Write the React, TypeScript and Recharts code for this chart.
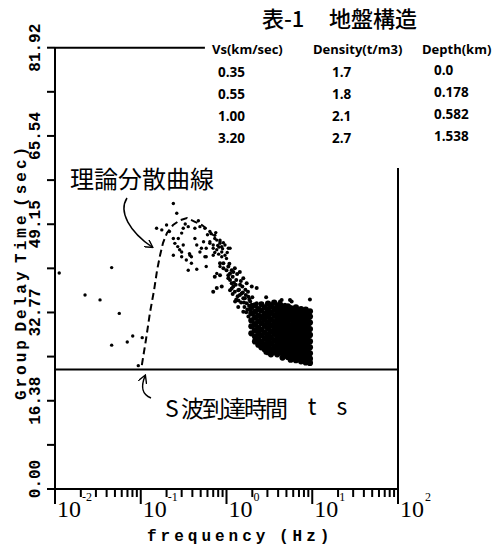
import React from 'react';
import { ScatterChart, Scatter, XAxis, YAxis, ReferenceLine } from 'recharts';

// ---- axes ----
const xMajorTicks = [0.01, 0.1, 1, 10, 100];
const xMinorMultipliers = [2, 3, 4, 5, 6, 7, 8, 9];
const xExponents = ['-2', '-1', '0', '1', '2'];
const yTicks = [0, 8.19, 16.38, 24.58, 32.77, 40.96, 49.15, 57.34, 65.54, 73.73, 81.92];
const yTickLabels = ['0.00', '16.38', '32.77', '49.15', '65.54', '81.92'];
const sWaveArrival = 22.2;

// ---- theoretical dispersion curve (f Hz, t sec) ----
const theoryCurve = [
  [0.103, 23.0], [0.115, 27.7], [0.128, 32.7], [0.143, 36.9], [0.155, 40.6],
  [0.168, 43.4], [0.182, 45.7], [0.202, 47.5], [0.238, 49.0], [0.287, 49.9],
  [0.346, 50.3], [0.429, 49.6], [0.518, 49.0], [0.608, 48.1], [0.697, 47.1],
];

// ---- observed group delays ----
const sparsePoints = [
  [0.0112, 40.1], [0.0224, 36.0], [0.0335, 35.1], [0.0458, 41.1], [0.0562, 32.6],
  [0.0458, 26.7], [0.0696, 27.3], [0.0806, 28.4], [0.104, 28.1], [0.0936, 22.9],
];

const peakPoints = [
  [0.240, 53.0], [0.263, 51.2], [0.153, 48.4], [0.176, 48.1], [0.200, 49.0], [0.216, 47.8],
  [0.274, 46.5], [0.300, 47.5], [0.313, 48.4], [0.358, 48.7], [0.428, 48.4], [0.490, 48.7],
  [0.560, 48.4], [0.640, 47.8], [0.730, 47.1], [0.250, 45.6], [0.313, 45.3], [0.428, 46.5],
  [0.450, 45.3], [0.540, 45.9], [0.510, 44.7], [0.640, 45.9], [0.700, 45.3], [0.840, 45.9],
  [0.880, 45.0], [0.770, 44.4], [0.284, 44.4], [0.370, 43.7], [0.390, 43.1], [0.240, 43.4],
  [0.300, 43.1], [0.580, 43.1], [0.700, 43.4], [0.880, 43.1], [1.00, 42.8], [0.358, 40.6],
  [0.450, 40.8], [0.580, 41.3], [0.770, 40.0], [0.840, 41.3], [0.240, 46.5], [0.270, 45.0],
  [0.300, 44.0], [0.340, 42.5], [0.375, 43.4], [0.390, 41.9], [0.490, 44.0], [0.560, 43.1],
  [0.580, 44.7], [0.640, 45.6], [0.730, 46.5], [0.840, 46.2], [0.960, 45.3], [1.05, 44.7],
  [0.770, 46.2], [0.840, 45.6], [0.700, 44.7], [0.880, 44.0], [0.960, 43.4], [1.10, 44.7],
  [0.660, 47.4], [0.750, 47.6], [0.820, 44.9], [0.730, 43.9], [0.900, 44.6], [0.330, 49.2],
  [0.470, 49.8], [0.600, 47.2], [0.790, 45.2], [0.920, 45.7], [0.810, 43.6], [1.02, 43.9],
];

const bandPoints = [
  [0.92, 41.9], [1.05, 41.3], [1.15, 40.6], [1.25, 41.0], [1.43, 40.3], [0.73, 39.4],
  [0.84, 39.7], [1.05, 39.7], [1.10, 38.8], [1.30, 38.8], [1.57, 39.1], [1.72, 38.2],
  [1.97, 37.6], [2.25, 37.3], [0.77, 37.3], [0.88, 37.6], [0.70, 36.6], [1.20, 37.6],
  [1.25, 36.6], [1.43, 36.0], [1.57, 35.4], [1.80, 35.7], [1.89, 34.8], [2.25, 34.5],
  [1.10, 36.9], [1.37, 36.9], [0.84, 41.9], [0.92, 41.0], [1.00, 40.6], [1.10, 40.0],
  [1.20, 40.3], [1.05, 39.1], [1.15, 38.2], [1.44, 37.9], [1.50, 36.3], [1.64, 35.4],
  [1.72, 34.5], [1.97, 34.2], [1.88, 33.2], [2.05, 32.6], [1.37, 33.8], [1.26, 34.8],
  [1.57, 32.9], [1.80, 32.0], [1.15, 37.2], [1.22, 38.3], [1.35, 35.8], [1.40, 37.0],
  [1.48, 34.6], [1.55, 36.5], [1.62, 33.8], [1.68, 36.0], [1.75, 33.3], [1.85, 35.2],
  [1.92, 33.9], [2.00, 35.6], [2.10, 34.0], [2.15, 33.1], [1.30, 35.2], [1.18, 36.2],
  [1.08, 41.8], [1.18, 39.4], [1.33, 39.9], [1.28, 37.9], [1.47, 38.6], [1.38, 35.0],
  [1.53, 37.6], [1.60, 34.6], [1.66, 37.0], [1.78, 36.6], [1.70, 32.8], [1.83, 34.0],
  [4.21, 34.8], [5.50, 35.1], [9.40, 35.2], [4.81, 33.6], [3.40, 34.3], [2.90, 35.6],
  [5.75, 34.8], [4.81, 34.2], [4.40, 35.1], [2.85, 25.3],
];

const clusterPoints = [
  [1.95, 33.8], [1.95, 32.6], [1.95, 31.3], [1.95, 30.2], [1.95, 28.9],
  [2.15, 34.1], [2.15, 32.9], [2.15, 31.8], [2.15, 30.6], [2.15, 29.5], [2.15, 28.3], [2.15, 27.4],
  [2.35, 33.4], [2.35, 32.2], [2.35, 31.1], [2.35, 29.9], [2.35, 28.8], [2.35, 27.7], [2.35, 26.8],
  [2.55, 34.3], [2.55, 33.1], [2.55, 31.9], [2.55, 30.8], [2.55, 29.6], [2.55, 28.5], [2.55, 27.3], [2.55, 26.3],
  [2.8, 33.7], [2.8, 32.5], [2.8, 31.4], [2.8, 30.3], [2.8, 29.1], [2.8, 28.0], [2.8, 26.9], [2.8, 25.9],
  [3.05, 34.4], [3.05, 33.2], [3.05, 32.1], [3.05, 30.9], [3.05, 29.8], [3.05, 28.6], [3.05, 27.5], [3.05, 26.4], [3.05, 25.4],
  [3.3, 33.9], [3.3, 32.7], [3.3, 31.5], [3.3, 30.4], [3.3, 29.2], [3.3, 28.1], [3.3, 27.0], [3.3, 25.9], [3.3, 25.0],
  [3.6, 34.6], [3.6, 33.4], [3.6, 32.2], [3.6, 31.0], [3.6, 29.9], [3.6, 28.8], [3.6, 27.6], [3.6, 26.5], [3.6, 25.5],
  [3.9, 33.8], [3.9, 32.8], [3.9, 31.6], [3.9, 30.5], [3.9, 29.3], [3.9, 28.2], [3.9, 27.1], [3.9, 26.0], [3.9, 25.0],
  [4.2, 34.3], [4.2, 33.3], [4.2, 32.3], [4.2, 31.1], [4.2, 30.0], [4.2, 28.9], [4.2, 27.8], [4.2, 26.6], [4.2, 25.6],
  [4.5, 33.9], [4.5, 32.9], [4.5, 31.8], [4.5, 30.7], [4.5, 29.5], [4.5, 28.4], [4.5, 27.3], [4.5, 26.2], [4.5, 25.2], [4.5, 24.4],
  [4.85, 33.5], [4.85, 32.4], [4.85, 31.3], [4.85, 30.1], [4.85, 29.0], [4.85, 27.9], [4.85, 26.8], [4.85, 25.7], [4.85, 24.8],
  [5.2, 33.9], [5.2, 33.0], [5.2, 32.0], [5.2, 30.8], [5.2, 29.7], [5.2, 28.6], [5.2, 27.5], [5.2, 26.3], [5.2, 25.3], [5.2, 24.5],
  [5.6, 33.6], [5.6, 32.6], [5.6, 31.5], [5.6, 30.3], [5.6, 29.2], [5.6, 28.1], [5.6, 26.9], [5.6, 25.8], [5.6, 24.8], [5.6, 24.0],
  [6.0, 33.2], [6.0, 32.2], [6.0, 31.1], [6.0, 29.9], [6.0, 28.7], [6.0, 27.6], [6.0, 26.5], [6.0, 25.4], [6.0, 24.4],
  [6.45, 33.7], [6.45, 32.8], [6.45, 31.6], [6.45, 30.5], [6.45, 29.3], [6.45, 28.2], [6.45, 27.1], [6.45, 26.0], [6.45, 24.9], [6.45, 23.9],
  [6.9, 33.0], [6.9, 32.1], [6.9, 30.9], [6.9, 29.8], [6.9, 28.6], [6.9, 27.5], [6.9, 26.4], [6.9, 25.3], [6.9, 24.3],
  [7.4, 33.4], [7.4, 32.5], [7.4, 31.4], [7.4, 30.2], [7.4, 29.1], [7.4, 28.0], [7.4, 26.9], [7.4, 25.8], [7.4, 24.7], [7.4, 23.7],
  [7.9, 32.9], [7.9, 31.9], [7.9, 30.7], [7.9, 29.6], [7.9, 28.5], [7.9, 27.3], [7.9, 26.2], [7.9, 25.1], [7.9, 24.1],
  [8.4, 33.3], [8.4, 32.3], [8.4, 31.2], [8.4, 30.0], [8.4, 28.9], [8.4, 27.8], [8.4, 26.6], [8.4, 25.5], [8.4, 24.5], [8.4, 23.5],
  [8.9, 32.8], [8.9, 31.7], [8.9, 30.5], [8.9, 29.4], [8.9, 28.2], [8.9, 27.1], [8.9, 26.0], [8.9, 24.9], [8.9, 23.9],
  [9.4, 33.0], [9.4, 32.0], [9.4, 30.9], [9.4, 29.7], [9.4, 28.6], [9.4, 27.4], [9.4, 26.3], [9.4, 25.2], [9.4, 24.2], [9.4, 23.4],
];

// ---- table ----
const tableTitle = ['表-1', '地盤構造'];
const tableHeaders = ['Vs(km/sec)', 'Density(t/m3)', 'Depth(km)'];
const vsValues = ['0.35', '0.55', '1.00', '3.20'];
const densityValues = ['1.7', '1.8', '2.1', '2.7'];
const depthValues = ['0.0', '0.178', '0.582', '1.538'];

const toObj = (arr: number[][]) => arr.map(([f, t]) => ({ f, t }));

const xTicks: number[] = [];
xMajorTicks.forEach((d, i) => {
  xTicks.push(d);
  if (i < xMajorTicks.length - 1) xMinorMultipliers.forEach((m) => xTicks.push(+(d * m).toPrecision(6)));
});

const MONO = "'Liberation Mono', 'DejaVu Sans Mono', monospace";
const SERIF = "'Liberation Serif', 'DejaVu Serif', serif";
const CJK = "'Noto Sans CJK JP', 'Noto Sans CJK SC', sans-serif";
const SANS = "'Open Sans', 'Liberation Sans', sans-serif";

// tickSize/tickMargin are 0, so (x, y) sits on the axis line
const XTick = (props: any) => {
  const { x, y, payload } = props;
  const v = payload.value;
  const idx = xMajorTicks.findIndex((m) => Math.abs(m - v) / m < 1e-6);
  const major = idx >= 0;
  return (
    <g>
      <rect x={x - 1} y={y} width={2} height={major ? 15 : 8} fill="#000" />
      {major && (
        <text x={x + 2} y={y + 28} fontFamily={SERIF} fontSize={24} fill="#000">
          10
          <tspan dx={1} dy={-16} fontSize={12}>{xExponents[idx]}</tspan>
        </text>
      )}
    </g>
  );
};

const YTick = (props: any) => {
  const { x, y, payload } = props;
  const i = yTicks.indexOf(payload.value);
  const label = i % 2 === 0 ? yTickLabels[i / 2] : null;
  const cy = i === 0 ? y - 10 : y;
  return (
    <g>
      <rect x={x - 8} y={y - 1} width={8} height={2} fill="#000" />
      {label && (
        <text
          x={36}
          y={cy}
          transform={`rotate(-90 36 ${cy})`}
          textAnchor="middle"
          dominantBaseline="central"
          fontFamily={MONO}
          fontWeight="bold"
          fontSize={16}
          fill="#000"
        >
          {label}
        </text>
      )}
    </g>
  );
};

const dot = (r: number) => (p: any) => <circle cx={p.cx} cy={p.cy} r={r} fill="#000" />;
const noShape = () => <g />;

export default function App() {
  const rowY = [77, 99, 121, 143];
  return (
    <div style={{ position: 'absolute', left: 0, top: 0, width: 493, height: 550, background: '#fff' }}>
      <ScatterChart width={493} height={550} margin={{ top: 47.7, right: 95, bottom: 21, left: 10 }}>
        <XAxis
          type="number"
          dataKey="f"
          scale="log"
          domain={[0.01, 100]}
          ticks={xTicks}
          interval={0}
          height={40}
          tickSize={0}
          tickMargin={0}
          tickLine={false}
          axisLine={{ stroke: '#000', strokeWidth: 2 }}
          tick={(p: any) => <XTick {...p} />}
          allowDataOverflow
        />
        <YAxis
          type="number"
          dataKey="t"
          domain={[0, 81.92]}
          ticks={yTicks}
          interval={0}
          width={45}
          tickSize={0}
          tickMargin={0}
          tickLine={false}
          axisLine={{ stroke: '#000', strokeWidth: 2 }}
          tick={(p: any) => <YTick {...p} />}
          allowDataOverflow
        />
        <ReferenceLine y={sWaveArrival} stroke="#000" strokeWidth={2} />
        <ReferenceLine segment={[{ x: 0.01, y: 81.92 }, { x: 0.56, y: 81.92 }]} stroke="#000" strokeWidth={2} />
        <ReferenceLine segment={[{ x: 100, y: 0 }, { x: 100, y: 59.6 }]} stroke="#000" strokeWidth={2} />
        <Scatter
          data={toObj(theoryCurve)}
          line={{ stroke: '#000', strokeWidth: 2, strokeDasharray: '7 4' }}
          lineType="joint"
          shape={noShape}
          isAnimationActive={false}
        />
        <Scatter data={toObj(sparsePoints)} shape={dot(1.7)} isAnimationActive={false} />
        <Scatter data={toObj(peakPoints)} shape={dot(1.7)} isAnimationActive={false} />
        <Scatter data={toObj(bandPoints)} shape={dot(2.0)} isAnimationActive={false} />
        <Scatter data={toObj(clusterPoints)} shape={dot(3.1)} isAnimationActive={false} />
      </ScatterChart>
      <svg width={493} height={550} style={{ position: 'absolute', left: 0, top: 0, pointerEvents: 'none' }}>
        <defs>
          <marker id="ah" markerWidth="9" markerHeight="9" refX="7" refY="4.5" orient="auto" markerUnits="userSpaceOnUse">
            <path d="M0,0 L8,4.5 L0,9" fill="none" stroke="#000" strokeWidth={1.4} />
          </marker>
        </defs>
        {/* axis titles */}
        <text
          x={22}
          y={272}
          transform="rotate(-90 22 272)"
          textAnchor="middle"
          dominantBaseline="central"
          fontFamily={MONO}
          fontWeight="bold"
          fontSize={16}
          letterSpacing={3}
          wordSpacing={-7}
          fill="#000"
        >
          Group Delay Time (sec)
        </text>
        <text x={147} y={541} fontFamily={MONO} fontWeight="bold" fontSize={16} letterSpacing={4} wordSpacing={-4} fill="#000">
          frequency (Hz)
        </text>
        {/* table */}
        <text x={262} y={27} fontFamily={CJK} fontWeight={500} fontSize={22} fill="#000">{tableTitle[0]}</text>
        <text x={329} y={27} fontFamily={CJK} fontWeight={500} fontSize={22} fill="#000">{tableTitle[1]}</text>
        <text x={212} y={54} fontFamily={SANS} fontWeight={700} fontSize={13} fill="#000">{tableHeaders[0]}</text>
        <text x={313} y={54} fontFamily={SANS} fontWeight={700} fontSize={13} fill="#000">{tableHeaders[1]}</text>
        <text x={422} y={54} fontFamily={SANS} fontWeight={700} fontSize={13} fill="#000">{tableHeaders[2]}</text>
        {vsValues.map((v, i) => (
          <text key={'vs' + i} x={218} y={rowY[i]} fontFamily={SANS} fontWeight={700} fontSize={13.5} fill="#000">{v}</text>
        ))}
        {densityValues.map((v, i) => (
          <text key={'de' + i} x={332} y={rowY[i]} fontFamily={SANS} fontWeight={700} fontSize={13.5} fill="#000">{v}</text>
        ))}
        {depthValues.map((v, i) => (
          <text key={'dp' + i} x={434} y={rowY[i] - 2} fontFamily={SANS} fontWeight={700} fontSize={13.5} fill="#000">{v}</text>
        ))}
        {/* annotations */}
        <text x={70} y={188} fontFamily={CJK} fontSize={24} fill="#000">理論分散曲線</text>
        <path d="M127,198 C118,212 130,232 152,247" fill="none" stroke="#000" strokeWidth={1.5} markerEnd="url(#ah)" />
        <text x={165} y={417} fontFamily={CJK} fontSize={23} fill="#000">S</text>
        <text x={181} y={417} fontFamily={CJK} fontSize={23} letterSpacing={-2} fill="#000">波到達時間</text>
        <text x={312} y={415} textAnchor="middle" fontFamily={CJK} fontSize={23} fill="#000">t</text>
        <text x={342} y={415} textAnchor="middle" fontFamily={CJK} fontSize={23} fill="#000">s</text>
        <path d="M151,398 C141,394 141,386 145,376" fill="none" stroke="#000" strokeWidth={1.5} markerEnd="url(#ah)" />
      </svg>
    </div>
  );
}
